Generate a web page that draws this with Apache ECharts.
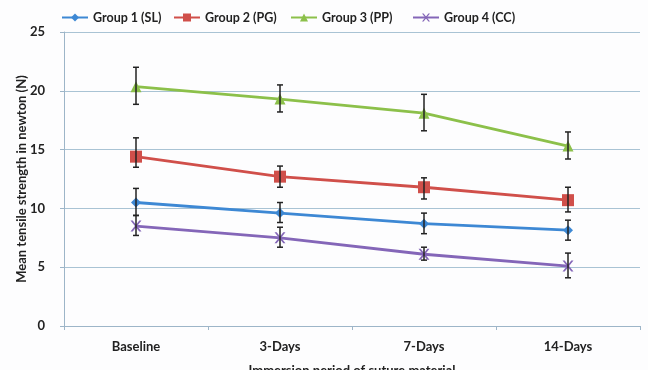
<!DOCTYPE html>
<html><head><meta charset="utf-8">
<script src="https://cdn.jsdelivr.net/npm/echarts@6/dist/echarts.min.js"></script>
<style>html,body{margin:0;padding:0;background:#fdfdfe}#c{width:648px;height:370px}</style>
</head><body><div id="c"></div>
<script>
const categories = ["Baseline", "3-Days", "7-Days", "14-Days"];
const seriesNames = ["Group 1 (SL)", "Group 2 (PG)", "Group 3 (PP)", "Group 4 (CC)"];
const g1 = [10.5, 9.6, 8.7, 8.15];
const g1Low = [9.4, 8.8, 7.85, 7.3];
const g1High = [11.7, 10.5, 9.6, 9.0];
const g2 = [14.4, 12.7, 11.8, 10.7];
const g2Low = [13.5, 11.8, 10.8, 9.7];
const g2High = [16.0, 13.6, 12.6, 11.8];
const g3 = [20.35, 19.3, 18.1, 15.3];
const g3Low = [18.85, 18.2, 16.6, 14.2];
const g3High = [22.0, 20.5, 19.7, 16.5];
const g4 = [8.5, 7.5, 6.1, 5.1];
const g4Low = [7.7, 6.7, 5.6, 4.1];
const g4High = [9.4, 8.4, 6.7, 6.2];
const yTicks = [0, 5, 10, 15, 20, 25];

const colors = ["#3d88d4", "#d04f4a", "#8cc04a", "#8466b8"];
const symbols = ["diamond", "rect", "triangle",
  "path://M0,0 L2,0 L5,3 L8,0 L10,0 L6,4 L10,8 L8,8 L5,5 L2,8 L0,8 L4,4 Z"];
const symbolSizes = [10, 12, 11, 11];
const legendLeft = [56, 168, 285, 407];
const means = [g1, g2, g3, g4];
const lows = [g1Low, g2Low, g3Low, g4Low];
const highs = [g1High, g2High, g3High, g4High];
const FONT = "Lato";

const series = [];
seriesNames.forEach((n, i) => {
  series.push({
    name: n, type: "line", data: means[i], symbol: symbols[i], symbolSize: symbolSizes[i],
    lineStyle: {color: colors[i], width: 2.8}, itemStyle: {color: colors[i]}, z: 3
  });
});
seriesNames.forEach((n, i) => {
  series.push({
    type: "custom", z: 4, silent: true,
    data: categories.map((c, k) => [k, lows[i][k], highs[i][k]]),
    renderItem: function (params, api) {
      const x = api.value(0);
      const lo = api.coord([x, api.value(1)]);
      const hi = api.coord([x, api.value(2)]);
      const w = 3;
      const st = {stroke: "#222", lineWidth: 1.5};
      return {type: "group", children: [
        {type: "line", shape: {x1: lo[0], y1: lo[1], x2: hi[0], y2: hi[1]}, style: st},
        {type: "line", shape: {x1: lo[0] - w, y1: lo[1], x2: lo[0] + w, y2: lo[1]}, style: st},
        {type: "line", shape: {x1: hi[0] - w, y1: hi[1], x2: hi[0] + w, y2: hi[1]}, style: st}
      ]};
    }
  });
});

const legends = seriesNames.map((n, i) => ({
  top: 6, left: legendLeft[i], itemWidth: 26, itemHeight: 10, itemGap: 0,
  data: [n],
  textStyle: {fontFamily: FONT, fontWeight: "bold", fontSize: 12.5, color: "#222"}
}));

const chart = echarts.init(document.getElementById("c"));
chart.setOption({
  animation: false,
  backgroundColor: "#fdfdfe",
  textStyle: {fontFamily: FONT},
  legend: legends,
  grid: {left: 64, right: 8, top: 32, bottom: 44, outerBoundsMode: "none", containLabel: false},
  xAxis: {
    type: "category", data: categories, boundaryGap: true,
    axisLine: {lineStyle: {color: "#9db5c8", width: 1}},
    axisTick: {show: true, length: 4, lineStyle: {color: "#9db5c8"}},
    axisLabel: {fontFamily: FONT, fontWeight: "bold", fontSize: 13, color: "#222", margin: 14},
    name: "Immersion period of suture material", nameLocation: "middle", nameGap: 38,
    nameMoveOverlap: false,
    nameTextStyle: {fontFamily: FONT, fontWeight: "bold", fontSize: 13, color: "#222"}
  },
  yAxis: {
    type: "value", min: 0, max: 25, interval: 5,
    axisLine: {show: true, lineStyle: {color: "#9db5c8"}},
    axisTick: {show: true, length: 4, lineStyle: {color: "#9db5c8"}},
    splitLine: {lineStyle: {color: "#a9c3d4", width: 1}},
    axisLabel: {fontFamily: FONT, fontWeight: "bold", fontSize: 13, color: "#222", margin: 19},
    name: "Mean tensile strength in newton (N)", nameLocation: "middle", nameGap: 36,
    nameMoveOverlap: false,
    nameTextStyle: {fontFamily: FONT, fontWeight: "bold", fontSize: 13, color: "#222"}
  },
  series: series
});
</script></body></html>
